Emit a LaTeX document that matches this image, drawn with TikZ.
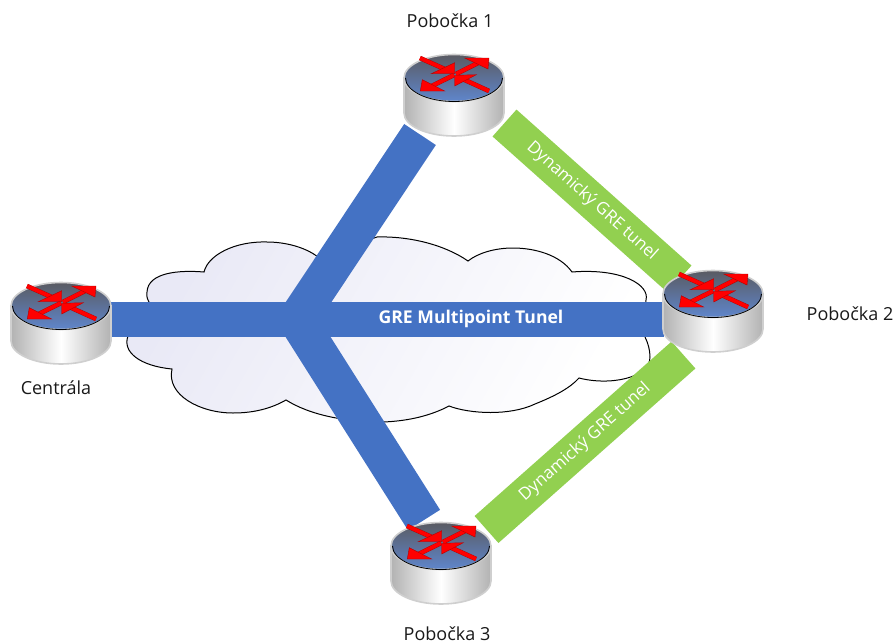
\documentclass[tikz,border=0pt]{standalone}
\usepackage{xcolor}
\usepackage{fontspec}
\setmainfont{Open Sans}
\usetikzlibrary{calc, positioning}
\definecolor{barblue}{HTML}{4472C4}
\definecolor{bargreen}{HTML}{92D050}
\definecolor{cloudtint}{HTML}{E9E9F6}
\definecolor{topdark}{HTML}{5A5B62}
\definecolor{topblue}{HTML}{5F86CC}
\definecolor{rimgray}{HTML}{CFCFCF}
\definecolor{sidegray}{HTML}{B2B2B2}
\tikzset{
	bluebar/.style={barblue, line width=38},
	hbar/.style={barblue, line width=35},
	greenbar/.style={bargreen, line width=36},
	tunnellabel/.style={text=white, font=\fontsize{17}{19}\selectfont, sloped},
	sitelabel/.style={font=\fontsize{18}{20}\selectfont, text=black!90, inner sep=0pt},
	router/.pic={
		% Body and rim
		\path[draw=rimgray, line width=1.6, left color=sidegray, right color=sidegray, middle color=white]
			(-50,0) -- (-50,35) arc(180:0:50 and 23) -- (50,0) -- cycle;
		\path[draw=rimgray, line width=1.6, top color=topdark, bottom color=topblue] (0,0) ellipse [x radius=50, y radius=23.5];
		\draw[black, line width=0.8] (-48.5,0) arc(180:0:48.5 and 23.5);
		% Arrows
		\routerarrow{-34,-20}{0.7,-4.3}{0.7,-15.3}{-22.7,-4.3}
		\routerarrow{2,-4}{35,-20}{10.7,-20}{34,-9}
		\routerarrow{0,-3}{-33.7,13}{-31.7,1.7}{-9.3,13}
		\routerarrow{35,13}{0.7,-2.7}{22.3,-3.3}{0.7,8}
	}
}
\newcommand{\routerarrow}[4]{
	\draw[red!70!black, double=red, double distance=3.8, line width=0.4] (#1) -- ($(#3)!0.5!(#4)!0.3!(#2)$);
	\draw[fill=red, draw=red!70!black, line width=0.4] (#2) -- (#3) -- (#4) -- cycle;
}
\begin{document}
\begin{tikzpicture}[x=1pt, y=-1pt]
	\useasboundingbox (0,0) rectangle (895,643);
	
	% Cloud
	\path[draw=black, line width=1.0, top color=cloudtint, middle color=white, bottom color=white, shading angle=60]
		(204,272) .. controls (180,270) and (148,272) .. (147,292)
		.. controls (146,297) and (148,300) .. (150,304)
		-- (128,336) .. controls (122,352) and (140,366) .. (172,369)
		.. controls (166,395) and (200,413) .. (233,413)
		.. controls (255,413) and (272,408) .. (286,400)
		.. controls (310,415) and (345,422) .. (383,422)
		.. controls (410,421) and (432,415) .. (449,406)
		.. controls (470,414) and (510,416) .. (535,404)
		.. controls (555,396) and (570,388) .. (579,378)
		.. controls (610,386) and (650,378) .. (650,357)
		.. controls (650,350) and (648,343) .. (645,337)
		-- (646,300) .. controls (650,285) and (622,268) .. (572,272)
		.. controls (560,255) and (535,248) .. (513,248)
		.. controls (495,248) and (478,253) .. (468,261)
		.. controls (445,245) and (410,236) .. (377,237)
		-- (318,257) .. controls (305,247) and (285,242) .. (267,242)
		.. controls (235,241) and (208,255) .. (204,272) -- cycle;
	
	% Hub and free ends of the tunnels
	\coordinate (hub) at (297,319.5);
	\coordinate (cenEnd) at (111,319.5);
	\coordinate (pob2End) at (664,319.5);
	\coordinate (pob1End) at (420,134.5);
	\coordinate (pob3End) at (424,520);
	\coordinate (dyn1a) at (504.5,123);
	\coordinate (dyn1b) at (679.5,279);
	\coordinate (dyn3a) at (486.5,529.5);
	\coordinate (dyn3b) at (683.5,355);
	
	% GRE multipoint tunnel
	\draw[bluebar] (hub) -- (pob1End);
	\draw[bluebar] (hub) -- (pob3End);
	\draw[hbar] (cenEnd) -- (pob2End);
	\node (mgre) at (471,319) [text=white, font=\fontsize{17.6}{20}\selectfont\bfseries]{GRE Multipoint Tunel};
	
	% Dynamic tunnels
	\draw[greenbar] (dyn1a) -- node[tunnellabel] (dynlabA) {Dynamický GRE tunel} (dyn1b);
	\draw[greenbar] (dyn3a) -- node[tunnellabel] (dynlabB) {Dynamický GRE tunel} (dyn3b);
	
	% Routers
	\pic at (61,306) {router};
	\pic at (454,78) {router};
	\pic at (713,294) {router};
	\pic at (441,546) {router};
	
	% Labels
	\node (cen) at (56,388) [sitelabel]{Centrála};
	\node (pob1) at (450,21) [sitelabel]{Pobočka 1};
	\node (pob2) at (850,314) [sitelabel]{Pobočka 2};
	\node (pob3) at (447,634) [sitelabel]{Pobočka 3};
	
\end{tikzpicture}
\end{document}
